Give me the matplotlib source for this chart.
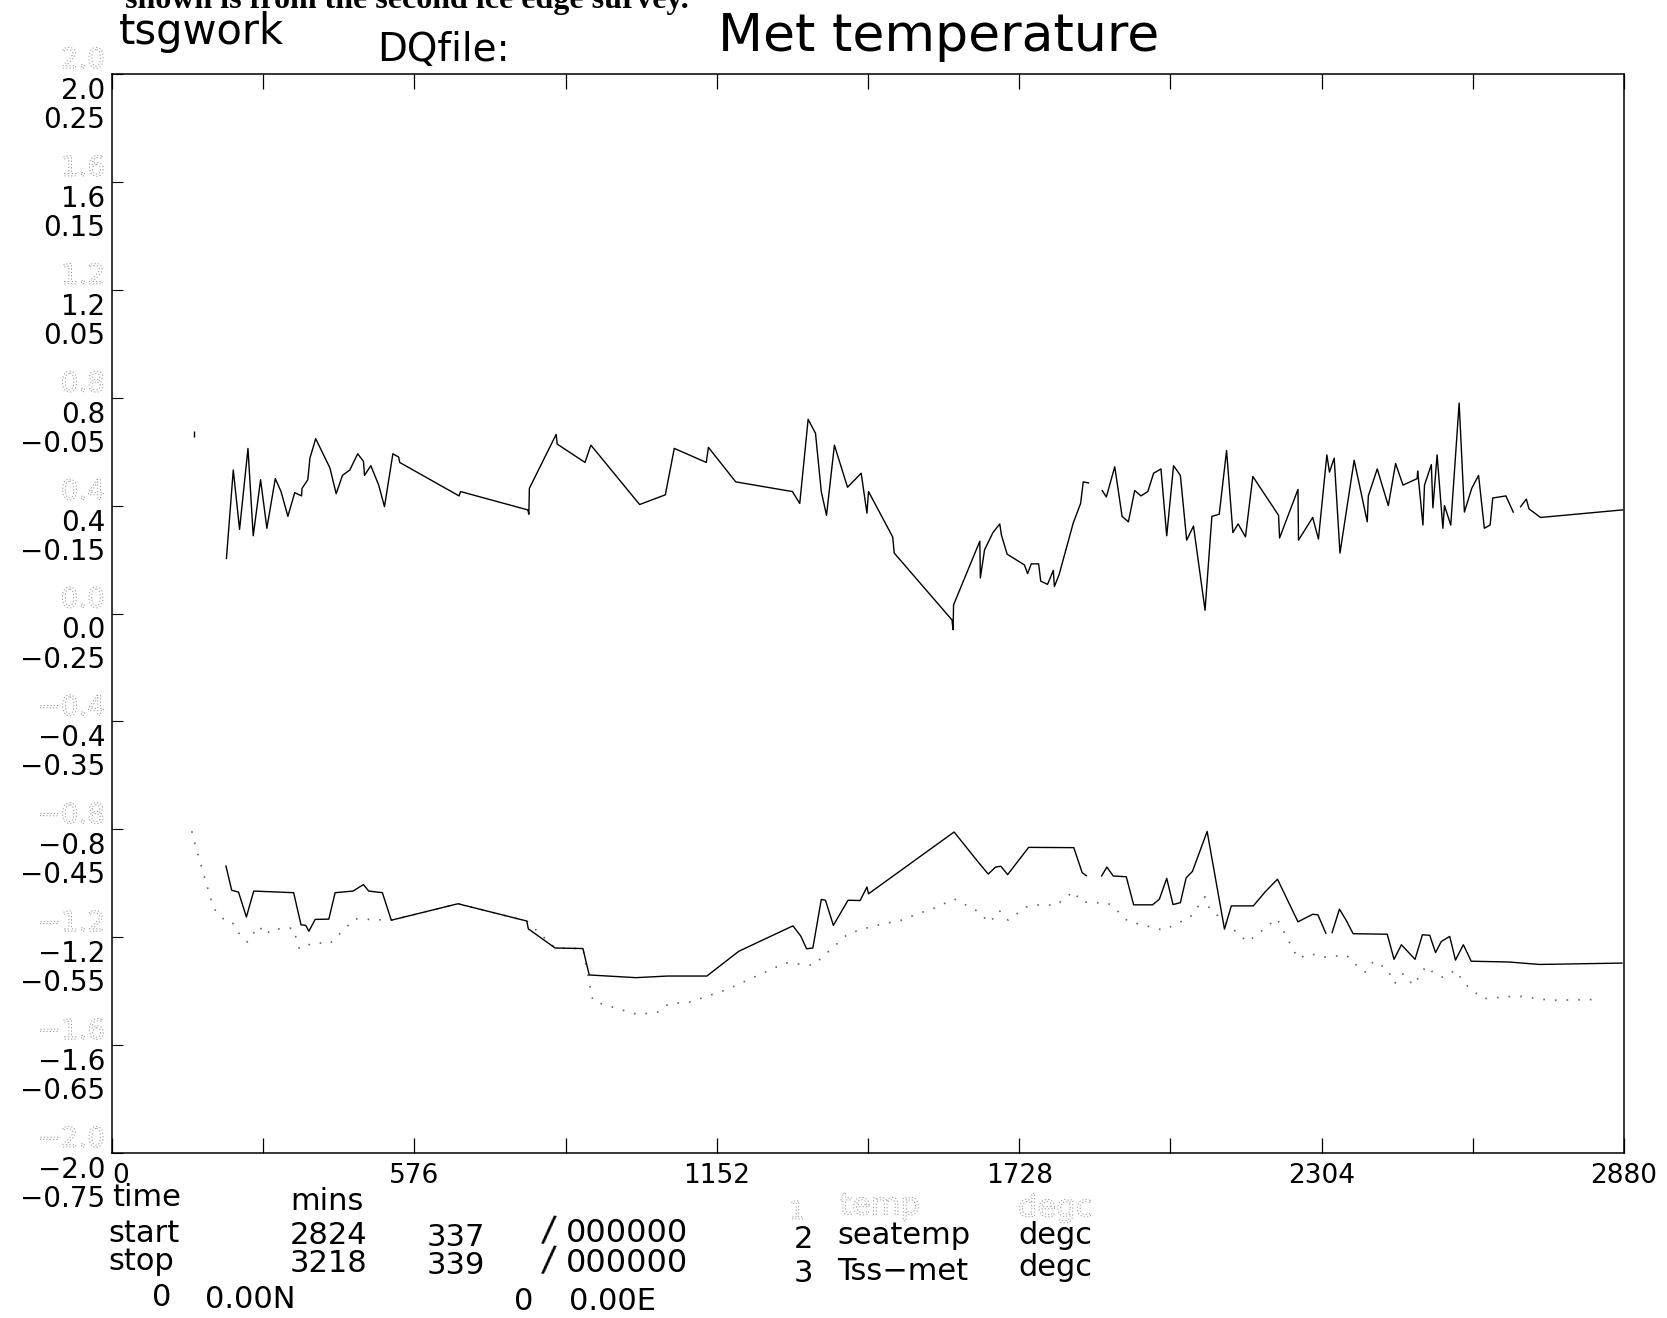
import numpy as np
import matplotlib.pyplot as plt
import matplotlib.patheffects as pe

# ─────────────────────────────────────────────
# Data (time in mins)
# ─────────────────────────────────────────────

# series 3: Tss-met (own scale, -0.75 .. 0.25 degc)
tss_time = [218, 231, 243, 259, 269, 283, 295, 311, 322, 335, 348, 361, 362, 373,
            377, 388, 402, 415, 427, 439, 453, 468, 479, 481, 493, 508, 519, 535,
            546, 548, 661, 664, 792, 794, 795, 846, 848, 901, 912, 919, 1005, 1054,
            1071, 1132, 1136, 1188, 1296, 1310, 1326, 1340, 1351, 1361, 1376, 1401,
            1427, 1438, 1441, 1487, 1490, 1600, 1602, 1603, 1653, 1654, 1662, 1678,
            1691, 1694, 1705, 1738, 1744, 1751, 1765, 1769, 1782, 1793, 1795, 1804,
            1831, 1845, 1850, 1860, 1873, 1886, 1894, 1910, 1924, 1936, 1948, 1960,
            1973, 1984, 1998, 2009, 2022, 2035, 2047, 2060, 2082, 2095, 2109, 2123,
            2135, 2145, 2159, 2173, 2222, 2224, 2259, 2260, 2287, 2298, 2314, 2319,
            2328, 2339, 2366, 2391, 2393, 2410, 2431, 2445, 2459, 2486, 2487, 2497,
            2500, 2513, 2516, 2524, 2535, 2538, 2550, 2566, 2576, 2590, 2603, 2614,
            2625, 2630, 2655, 2669, 2676, 2683, 2694, 2699, 2721, 2877]
tss_val = [-0.199, -0.117, -0.172, -0.097, -0.178, -0.126, -0.171, -0.125, -0.137,
           -0.160, -0.138, -0.141, -0.134, -0.126, -0.106, -0.088, -0.102, -0.115,
           -0.139, -0.122, -0.117, -0.102, -0.109, -0.122, -0.113, -0.131, -0.151,
           -0.102, -0.105, -0.110, -0.141, -0.137, -0.154, -0.158, -0.134, -0.084,
           -0.093, -0.110, -0.094, -0.098, -0.149, -0.140, -0.097, -0.110, -0.096,
           -0.128, -0.137, -0.148, -0.070, -0.083, -0.137, -0.159, -0.094, -0.133,
           -0.120, -0.157, -0.137, -0.179, -0.194, -0.256, -0.265, -0.242, -0.183,
           -0.217, -0.191, -0.175, -0.167, -0.177, -0.195, -0.205, -0.213, -0.204,
           -0.204, -0.220, -0.223, -0.210, -0.225, -0.214, -0.166, -0.148, -0.128,
           -0.129, np.nan, -0.136, -0.142, -0.114, -0.160, -0.165, -0.136, -0.141,
           -0.137, -0.120, -0.116, -0.178, -0.113, -0.122, -0.182, -0.169, -0.247,
           -0.160, -0.158, -0.099, -0.175, -0.167, -0.179, -0.123, -0.159, -0.180,
           -0.135, -0.182, -0.161, -0.181, -0.103, -0.119, -0.106, -0.194, -0.108,
           -0.165, -0.141, -0.116, -0.150, -0.111, -0.131, -0.125, -0.118, -0.168,
           -0.131, -0.112, -0.152, -0.103, -0.171, -0.150, -0.168, -0.055, -0.156,
           -0.134, -0.122, -0.171, -0.168, -0.143, -0.141, -0.156, np.nan, -0.151,
           -0.144, -0.153, -0.161, -0.154]
lone_time = [156]
lone_val = [-0.084]

# series 2: seatemp (degc)
sea_time = [217, 228, 241, 256, 270, 346, 360, 369, 375, 387, 413, 425, 459, 479,
            489, 515, 532, 659, 790, 793, 844, 897, 909, 998, 1058, 1133, 1194, 1297,
            1312, 1323, 1335, 1351, 1359, 1374, 1402, 1425, 1438, 1441, 1604, 1651,
            1669, 1683, 1693, 1706, 1746, 1832, 1848, 1856, 1870, 1885, 1895, 1907,
            1932, 1946, 1982, 1995, 2009, 2021, 2035, 2046, 2058, 2086, 2119, 2132,
            2174, 2196, 2220, 2259, 2287, 2297, 2312, 2318, 2324, 2338, 2351, 2364,
            2429, 2442, 2456, 2482, 2496, 2510, 2521, 2532, 2548, 2559, 2574, 2589,
            2661, 2719, 2876]
sea_val = [-0.936, -1.026, -1.033, -1.125, -1.029, -1.035, -1.154, -1.156, -1.178,
           -1.134, -1.133, -1.035, -1.029, -1.005, -1.029, -1.035, -1.137, -1.076,
           -1.140, -1.169, -1.240, -1.242, -1.340, -1.350, -1.344, -1.344, -1.252,
           -1.158, -1.196, -1.243, -1.240, -1.060, -1.063, -1.156, -1.063, -1.064,
           -1.014, -1.039, -0.810, -0.924, -0.966, -0.940, -0.937, -0.968, -0.867,
           -0.868, -0.961, -0.972, np.nan, -0.973, -0.940, -0.973, -0.976, -1.080,
           -1.080, -1.059, -0.982, -1.079, -1.072, -0.980, -0.956, -0.808, -1.170,
           -1.084, -1.084, -1.033, -0.985, -1.143, -1.115, -1.117, -1.185, np.nan,
           -1.183, -1.096, -1.138, -1.187, -1.189, -1.282, -1.228, -1.282, -1.191,
           -1.193, -1.257, -1.216, -1.197, -1.285, -1.228, -1.289, -1.292, -1.301,
           -1.296]

# series 1: temp (degc), dotted
met_time = [152, 160, 173, 188, 194, 213, 228, 239, 258, 279, 295, 302, 345, 357,
            385, 415, 462, 532, 659, 790, 844, 897, 916, 948, 1001, 1041, 1060, 1100,
            1170, 1283, 1336, 1402, 1451, 1502, 1535, 1567, 1604, 1646, 1672, 1690,
            1707, 1741, 1769, 1798, 1832, 1846, 1898, 1914, 1935, 2003, 2054, 2082,
            2090, 2163, 2219, 2259, 2282, 2308, 2351, 2377, 2387, 2403, 2429, 2443,
            2459, 2479, 2503, 2519, 2535, 2559, 2577, 2611, 2677, 2740, 2824]
met_val = [-0.807, -0.869, -0.956, -1.057, -1.094, -1.134, -1.141, -1.180, -1.218,
           -1.159, -1.191, -1.171, -1.166, -1.243, -1.220, -1.224, -1.132, -1.137,
           -1.076, -1.140, -1.240, -1.242, -1.437, -1.456, -1.487, -1.477, -1.447,
           -1.441, -1.395, -1.295, -1.304, -1.187, -1.158, -1.138, -1.113, -1.092,
           -1.058, -1.101, -1.146, -1.101, -1.137, -1.088, -1.079, -1.082, -1.030,
           -1.069, -1.075, -1.100, -1.141, -1.174, -1.125, -1.050, -1.092, -1.218,
           -1.131, -1.279, -1.261, -1.274, -1.267, -1.316, -1.329, -1.289, -1.317,
           -1.372, -1.336, -1.378, -1.307, -1.335, -1.348, -1.322, -1.373, -1.428,
           -1.418, -1.434, -1.431]

# axis scales
temp_ticks = [2.0, 1.6, 1.2, 0.8, 0.4, 0.0, -0.4, -0.8, -1.2, -1.6, -2.0]
temp_labels = ['2.0', '1.6', '1.2', '0.8', '0.4', '0.0', '\u22120.4', '\u22120.8',
               '\u22121.2', '\u22121.6', '\u22122.0']
tss_labels = ['0.25', '0.15', '0.05', '\u22120.05', '\u22120.15', '\u22120.25',
              '\u22120.35', '\u22120.45', '\u22120.55', '\u22120.65', '\u22120.75']
time_ticks = [0, 288, 576, 864, 1152, 1440, 1728, 2016, 2304, 2592, 2880]
time_labels = ['0', '', '576', '', '1152', '', '1728', '', '2304', '', '2880']

# ─────────────────────────────────────────────
# Figure
# ─────────────────────────────────────────────

W, H = 1667, 1318
plt.rcParams['font.family'] = 'DejaVu Sans'
fig = plt.figure(figsize=(W / 100, H / 100), dpi=100)
fig.patch.set_facecolor('white')

ax = fig.add_axes([112 / W, 1 - 1153 / H, 1512 / W, 1079 / H])
ax.set_xlim(0, 2880)
ax.set_ylim(-2.0, 2.0)
for sp in ax.spines.values():
    sp.set_linewidth(1.1)

ax.set_xticks(time_ticks)
ax.set_xticklabels(time_labels, fontsize=19)
ax.get_xticklabels()[0].set_ha('left')
ax.set_yticks(temp_ticks)
ax.set_yticklabels([])
ax.tick_params(axis='x', direction='in', top=True, length=11, width=0.9, pad=7)
ax.tick_params(axis='y', direction='in', right=True, length=8, width=0.8)

# dotted "ghost" text used for series 1 labels
ghost = [pe.Stroke(linewidth=0.7, foreground='#9a9a9a',
                   dashes={'dash_offset': 0, 'dash_list': [0.9, 1.5]})]

ytr = ax.get_yaxis_transform()
for v, lab, lab2 in zip(temp_ticks, temp_labels, tss_labels):
    ax.annotate(lab, xy=(0, v), xycoords=ytr, xytext=(-7, 14),
                textcoords='offset pixels', ha='right', va='center',
                fontsize=20, color='white', path_effects=ghost,
                annotation_clip=False)
    ax.annotate(lab, xy=(0, v), xycoords=ytr, xytext=(-7, -17),
                textcoords='offset pixels', ha='right', va='center',
                fontsize=20, annotation_clip=False)
    ax.annotate(lab2, xy=(0, v), xycoords=ytr, xytext=(-7, -46),
                textcoords='offset pixels', ha='right', va='center',
                fontsize=20, annotation_clip=False)

# series
ax.plot(met_time, met_val, color='#666666', lw=1.2, linestyle=(0, (1, 6)))
ax.plot(sea_time, sea_val, color='black', lw=1.0)

ax2 = ax.twinx()
ax2.set_ylim(-0.75, 0.25)
ax2.set_axis_off()
ax2.plot(tss_time, tss_val, color='black', lw=1.0)
ax2.plot(lone_time, lone_val, color='black', marker='|', markersize=5, lw=0)


def ftext(x, y, s, ghosted=False, **kw):
    kw.setdefault('fontsize', 22)
    kw.setdefault('va', 'center')
    if ghosted:
        kw.update(color='white', path_effects=ghost)
    fig.text(x / W, 1 - y / H, s, **kw)


# header
ftext(125, 8, 'shown is from the second ice edge survey.', fontsize=23,
      family='Liberation Serif', weight='bold', va='baseline')
ftext(119, 44, 'tsgwork', fontsize=30, va='baseline')
ftext(377, 61, 'DQfile:', fontsize=28, va='baseline')
ftext(718, 51, 'Met temperature', fontsize=37.5, va='baseline')

# info block under the axes
ftext(112, 1198, 'time')
ftext(290, 1202, 'mins')
ftext(108, 1234, 'start')
ftext(108, 1261, 'stop')
ftext(290, 1235, '2824')
ftext(290, 1264, '3218')
ftext(427, 1237, '337')
ftext(427, 1266, '339')
ftext(541, 1230, '/', fontsize=25, rotation=-8)
ftext(541, 1260, '/', fontsize=25, rotation=-8)
ftext(566, 1233, '000000', fontsize=23)
ftext(566, 1263, '000000', fontsize=23)
ftext(152, 1298, '0')
ftext(205, 1300, '0.00N')
ftext(514, 1302, '0')
ftext(569, 1302, '0.00E')

# legend
ftext(797, 1212, '1', ghosted=True, ha='center', fontsize=18)
ftext(840, 1206, 'temp', ghosted=True)
ftext(1018, 1208, 'degc', ghosted=True)
ftext(803, 1240, '2', ha='center')
ftext(837, 1236, 'seatemp')
ftext(1018, 1236, 'degc')
ftext(803, 1274, '3', ha='center')
ftext(837, 1272, 'Tss\u2212met')
ftext(1018, 1268, 'degc')

fig.savefig('out.png', dpi=100, facecolor='white')
